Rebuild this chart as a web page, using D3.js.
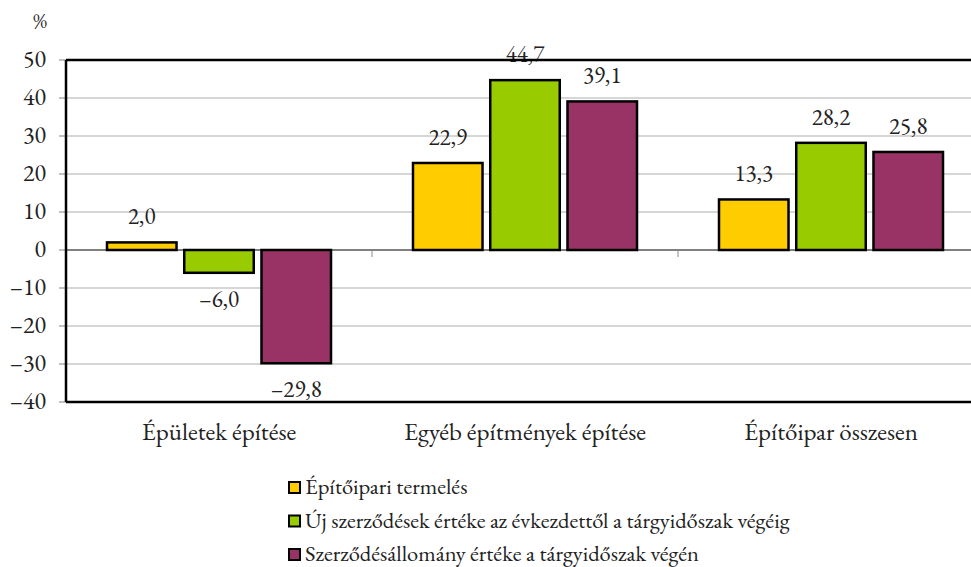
<!DOCTYPE html>
<html>
<head>
<meta charset="utf-8">
<script src="https://cdn.jsdelivr.net/npm/d3@7"></script>
<style>
  body { margin: 0; background: #fff; }
  svg text { font-family: "EB Garamond", "Liberation Serif", serif; fill: #222; }
</style>
</head>
<body>
<svg id="chart" width="971" height="567"></svg>
<script>
var categories = ["Épületek építése", "Egyéb építmények építése", "Építőipar összesen"];
var seriesNames = ["Építőipari termelés", "Új szerződések értéke az évkezdettől a tárgyidőszak végéig", "Szerződésállomány értéke a tárgyidőszak végén"];
var termeles = [2.0, 22.9, 13.3];
var ujSzerzodesek = [-6.0, 44.7, 28.2];
var allomany = [-29.8, 39.1, 25.8];
var yTicks = [50, 40, 30, 20, 10, 0, -10, -20, -30, -40];
var colors = ["#ffcc00", "#99cc00", "#993366"];

var svg = d3.select("#chart");
var plotLeft = 66, plotRight = 984, plotTop = 60, plotBottom = 402;

var y = d3.scaleLinear().domain([-40, 50]).range([plotBottom, plotTop]);
var x0 = d3.scaleBand().domain(categories).range([plotLeft, plotRight]).paddingInner(0).paddingOuter(0);
var x1 = d3.scaleBand().domain([0, 1, 2]).range([41, 265]).paddingInner(0.1).paddingOuter(0);

var allSeries = [termeles, ujSzerzodesek, allomany];
var fmt = function(v) { return d3.format(".1f")(v).replace(".", ",").replace("-", "\u2013").replace("\u2212", "\u2013"); };

// gridlines
svg.append("g").selectAll("line").data(yTicks.filter(function(t) { return t != 0 && t != 50 && t != -40; }))
  .enter().append("line")
  .attr("x1", plotLeft).attr("x2", plotRight)
  .attr("y1", function(d) { return y(d); }).attr("y2", function(d) { return y(d); })
  .attr("stroke", "#c8c8c8").attr("stroke-width", 1.5);

// y axis ticks + labels
var yAxis = svg.append("g");
yAxis.selectAll("line").data(yTicks).enter().append("line")
  .attr("x1", plotLeft - 7).attr("x2", plotLeft)
  .attr("y1", function(d) { return y(d); }).attr("y2", function(d) { return y(d); })
  .attr("stroke", "#aaa").attr("stroke-width", 1.5);
yAxis.selectAll("text").data(yTicks).enter().append("text")
  .attr("x", 46).attr("y", function(d) { return y(d) + 7; })
  .attr("text-anchor", "end").style("font-size", "24px")
  .text(function(d) { return String(d).replace("-", "\u2013"); });

svg.append("text").attr("x", 40).attr("y", 28).attr("text-anchor", "middle")
  .style("font-size", "21px").text("%");

// zero line and category ticks
svg.append("line").attr("x1", plotLeft).attr("x2", plotRight).attr("y1", y(0)).attr("y2", y(0))
  .attr("stroke", "#000").attr("stroke-width", 1);
svg.append("g").selectAll("line").data(categories.slice(1)).enter().append("line")
  .attr("x1", function(d) { return x0(d); }).attr("x2", function(d) { return x0(d); })
  .attr("y1", y(0)).attr("y2", y(0) + 7)
  .attr("stroke", "#888").attr("stroke-width", 1);

// bars
var groups = svg.append("g").selectAll("g").data(categories).enter().append("g")
  .attr("transform", function(d) { return "translate(" + x0(d) + ",0)"; });

groups.each(function(cat, ci) {
  var g = d3.select(this);
  allSeries.forEach(function(s, si) {
    var v = s[ci];
    g.append("rect")
      .attr("x", x1(si)).attr("width", x1.bandwidth())
      .attr("y", y(Math.max(0, v))).attr("height", Math.abs(y(v) - y(0)))
      .attr("fill", colors[si]).attr("stroke", "#000").attr("stroke-width", 2.5);
    g.append("text")
      .attr("x", x1(si) + x1.bandwidth() / 2)
      .attr("y", v >= 0 ? y(v) - 18 : y(v) + 34)
      .attr("text-anchor", "middle").style("font-size", "23px")
      .text(fmt(v));
  });
});

// frame
svg.append("line").attr("x1", plotLeft).attr("x2", plotRight).attr("y1", plotTop).attr("y2", plotTop)
  .attr("stroke", "#000").attr("stroke-width", 2.5);
svg.append("line").attr("x1", plotLeft).attr("x2", plotRight).attr("y1", plotBottom).attr("y2", plotBottom)
  .attr("stroke", "#000").attr("stroke-width", 2.5);
svg.append("line").attr("x1", plotLeft).attr("x2", plotLeft).attr("y1", plotTop).attr("y2", plotBottom)
  .attr("stroke", "#000").attr("stroke-width", 2.5);

// category labels
svg.append("g").selectAll("text").data(categories).enter().append("text")
  .attr("x", function(d) { return x0(d) + x0.bandwidth() / 2; })
  .attr("y", 440).attr("text-anchor", "middle").style("font-size", "25px")
  .text(function(d) { return d; });

// legend
var legend = svg.append("g").selectAll("g").data(seriesNames).enter().append("g")
  .attr("transform", function(d, i) { return "translate(289," + (482 + i * 33.5) + ")"; });
legend.append("rect").attr("width", 11).attr("height", 11)
  .attr("fill", function(d, i) { return colors[i]; }).attr("stroke", "#000").attr("stroke-width", 2);
legend.append("text").attr("x", 16).attr("y", 12).style("font-size", "22.5px")
  .text(function(d) { return d; });
</script>
</body>
</html>
